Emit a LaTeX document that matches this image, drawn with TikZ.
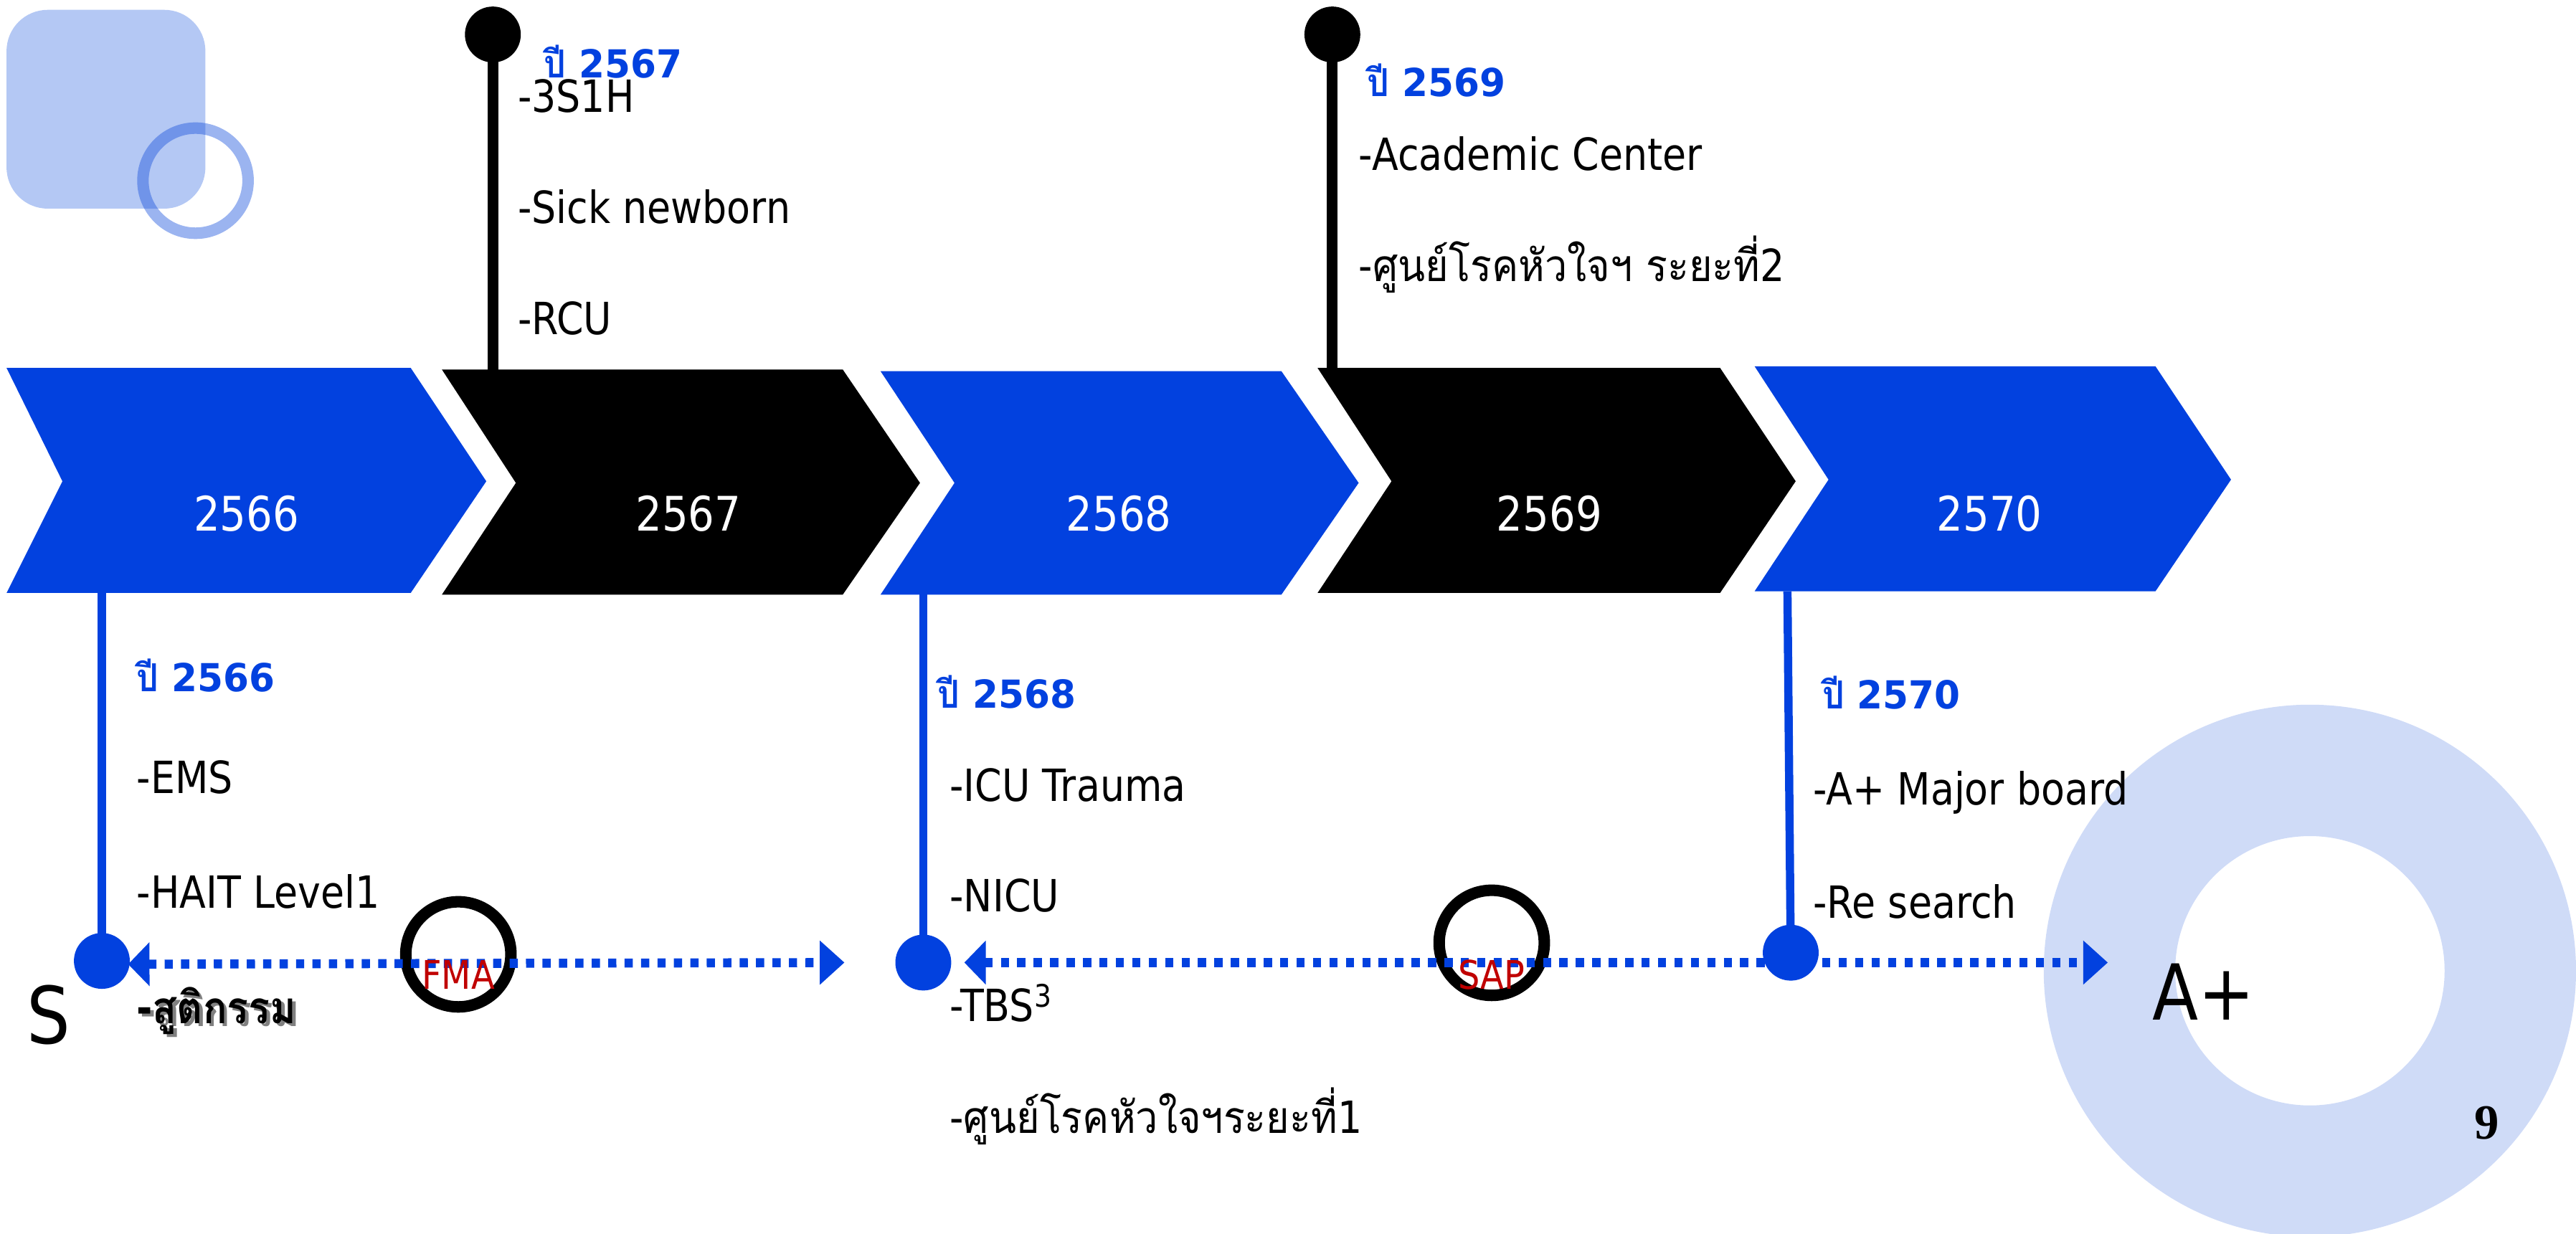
\documentclass[tikz,border=0pt]{standalone}
\usepackage{fontspec}
\setmainfont{DejaVu Sans}[FakeStretch=0.87]
\newfontfamily\thai[Script=Thai,FakeStretch=0.9]{Loma}
\newfontfamily\lblfont{DejaVu Sans}[FakeStretch=0.96]
\newfontfamily\numserif{Liberation Serif}
\usetikzlibrary{arrows.meta}
\definecolor{mainblue}{RGB}{2,65,223}
\definecolor{sqblue}{RGB}{180,200,244}
\definecolor{ringblue}{RGB}{23,80,220}
\definecolor{donutblue}{RGB}{207,219,247}
\definecolor{markred}{RGB}{192,0,0}
\begin{document}
\begin{tikzpicture}[x=1pt,y=-1pt,
  yearlbl/.style={text=white,inner sep=0pt,font=\fontsize{29}{34}\selectfont},
  bodytxt/.style={inner sep=0pt,anchor=base west,font=\fontsize{27}{32}\selectfont},
  bluelbl/.style={inner sep=0pt,anchor=base west,text=mainblue,font=\lblfont\fontsize{23.5}{28}\selectfont\bfseries},
  redlbl/.style={inner sep=0pt,anchor=base,text=markred,font=\fontsize{24}{28}\selectfont},
  bigtxt/.style={inner sep=0pt,anchor=base west,font=\fontsize{48}{56}\selectfont},
  topdot/.style={circle,fill=black,inner sep=0pt,minimum size=34pt},
  botdot/.style={circle,fill=mainblue,inner sep=0pt,minimum size=34pt},
  blackstem/.style={line width=6.5pt,black},
  bluestem/.style={line width=5pt,mainblue},
  ringmark/.style={circle,draw=black,line width=7pt,inner sep=0pt,minimum size=64pt},
  dotarrow/.style={mainblue,line width=5.5pt,dash pattern=on 5pt off 5pt},
  tipLR/.style={{Triangle[length=13pt,width=26pt]}-{Triangle[length=15pt,width=26pt]}}
]
\useasboundingbox (0,0) rectangle (1568,751);
% decoration top left
\fill[sqblue,rounded corners=25pt] (4,6) rectangle (125,127);
\draw[ringblue,opacity=0.43,line width=7pt] (119,110) circle[radius=32pt];
% donut
\fill[donutblue,even odd rule] (1406,591) circle[radius=162pt] (1406,591) circle[radius=82pt];
% chevrons
\fill[mainblue] (4,224) -- (250,224) -- (296,293) -- (250,361) -- (4,361) -- (38,293) -- cycle;
\fill[black] (269,225) -- (513,225) -- (560,294) -- (513,362) -- (269,362) -- (314,294) -- cycle;
\fill[mainblue] (536,226) -- (780,226) -- (827,294) -- (780,362) -- (536,362) -- (581,294) -- cycle;
\fill[black] (802,224) -- (1047,224) -- (1093,293) -- (1047,361) -- (802,361) -- (847,293) -- cycle;
\fill[mainblue] (1068,223) -- (1312,223) -- (1358,292) -- (1312,360) -- (1068,360) -- (1113,292) -- cycle;
\node[yearlbl] (y2566) at (150,312.5) {2566};
\node[yearlbl] (y2567) at (419,312.5) {2567};
\node[yearlbl] (y2568) at (681,312.5) {2568};
\node[yearlbl] (y2569) at (943,312.5) {2569};
\node[yearlbl] (y2570) at (1211,312.5) {2570};
% top stems
\coordinate (c2567) at (300,226);
\coordinate (c2569) at (811,225);
\node[topdot] (d2567) at (300,21) {};
\node[topdot] (d2569) at (811,21) {};
\draw[blackstem] (d2567.center) -- (c2567);
\draw[blackstem] (d2569.center) -- (c2569);
% bottom stems
\coordinate (c2566) at (62,361);
\coordinate (c2568) at (562,362);
\coordinate (c2570) at (1088,360);
% dotted arrows and rings
\node[ringmark] (fma) at (279,581) {};
\node[ringmark] (sap) at (908,574) {};
\coordinate (a1l) at (78,587);
\coordinate (a1r) at (514,586);
\coordinate (a2l) at (587,586);
\coordinate (a2r) at (1283,586);
\draw[dotarrow,tipLR] (a1l) -- (a1r);
\draw[dotarrow,tipLR] (a2l) -- (a2r);
\node[botdot] (d2566) at (62,585) {};
\node[botdot] (d2568) at (562,586) {};
\node[botdot] (d2570) at (1090,580) {};
\draw[bluestem] (c2566) -- (d2566.center);
\draw[bluestem] (c2568) -- (d2568.center);
\draw[bluestem] (c2570) -- (d2570.center);
\node[redlbl] (fmat) at (279,602) {FMA};
\node[redlbl] (sapt) at (908,602) {SAP};
% top texts
\node[bluelbl] (l2567) at (331,47.5) {{\thai ปี} 2567};
\node[bodytxt] (t3s1h) at (315,68.5) {-3S1H};
\node[bodytxt] (tsick) at (315,136) {-Sick newborn};
\node[bodytxt] (trcu) at (315,203.5) {-RCU};
\node[bluelbl] (l2569) at (832,58.5) {{\thai ปี} 2569};
\node[bodytxt] (tacad) at (827,103.7) {-Academic Center};
\node[bodytxt] (theart2) at (827,171.5) {-{\thai ศูนย์โรคหัวใจฯ ระยะที่}2};
% bottom texts
\node[bluelbl] (l2566) at (83,421) {{\thai ปี} 2566};
\node[bodytxt] (tems) at (83,483) {-EMS};
\node[bodytxt] (thait) at (83,553) {-HAIT Level1};
\node[bodytxt,font=\fontsize{27}{32}\selectfont\bfseries] (tobst) at (83,623) {\makebox[0pt][l]{\hspace{2pt}\raisebox{-2pt}{\color{black!50}-{\thai สูติกรรม}}}-{\thai สูติกรรม}};
\node[bigtxt] (ts) at (16,635.5) {S};
\node[bluelbl] (l2568) at (570.5,431) {{\thai ปี} 2568};
\node[bodytxt] (ticu) at (578,487.6) {-ICU Trauma};
\node[bodytxt] (tnicu) at (578,555) {-NICU};
\node[bodytxt] (ttbs) at (578,622) {-TBS\textsuperscript{3}};
\node[bodytxt] (theart1) at (578,690) {-{\thai ศูนย์โรคหัวใจฯระยะที่}1};
\node[bluelbl] (l2570) at (1109,431.7) {{\thai ปี} 2570};
\node[bodytxt] (tmajor) at (1103.5,490) {-A+ Major board};
\node[bodytxt] (tres) at (1103.5,559) {-Re search};
\node[bigtxt,font=\fontsize{47}{56}\selectfont] (taplus) at (1310,621) {A+};
\node[inner sep=0pt,anchor=base west,font=\numserif\bfseries\fontsize{30}{34}\selectfont] (pnum) at (1506,693.5) {9};
\end{tikzpicture}
\end{document}
